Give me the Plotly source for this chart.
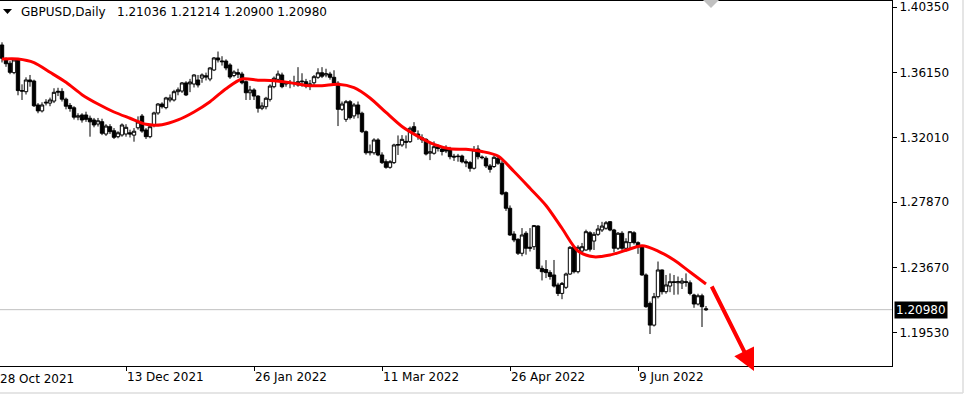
import pandas as pd
import plotly.graph_objects as go

# ---------------- data ----------------
symbol = "GBPUSD"
period = "Daily"
dates = [d.strftime("%Y-%m-%d") for d in pd.bdate_range("2021-10-29", "2022-07-04")]

opens = [1.3792, 1.3700, 1.3675, 1.3615, 1.3696, 1.3500, 1.3493, 1.3568, 1.3561, 1.3408,
         1.3370, 1.3420, 1.3420, 1.3433, 1.3489, 1.3495, 1.3445, 1.3405, 1.3390, 1.3330,
         1.3344, 1.3344, 1.3323, 1.3312, 1.3286, 1.3301, 1.3222, 1.3269, 1.3243, 1.3205,
         1.3216, 1.3222, 1.3230, 1.3215, 1.3262, 1.3337, 1.3248, 1.3205, 1.3280, 1.3357,
         1.3414, 1.3391, 1.3440, 1.3440, 1.3493, 1.3497, 1.3549, 1.3543, 1.3542, 1.3568,
         1.3580, 1.3595, 1.3574, 1.3632, 1.3709, 1.3690, 1.3689, 1.3664, 1.3596, 1.3615,
         1.3606, 1.3557, 1.3486, 1.3504, 1.3465, 1.3387, 1.3397, 1.3444, 1.3525, 1.3572,
         1.3600, 1.3542, 1.3550, 1.3545, 1.3536, 1.3557, 1.3557, 1.3535, 1.3550, 1.3585,
         1.3614, 1.3600, 1.3606, 1.3585, 1.3547, 1.3380, 1.3316, 1.3429, 1.3338, 1.3408,
         1.3355, 1.3237, 1.3102, 1.3102, 1.3184, 1.3088, 1.3045, 1.3009, 1.3039, 1.3150,
         1.3152, 1.3175, 1.3173, 1.3269, 1.3222, 1.3198, 1.3188, 1.3100, 1.3099, 1.3140,
         1.3126, 1.3130, 1.3126, 1.3080, 1.3077, 1.3081, 1.3045, 1.3039, 1.3003, 1.3126,
         1.3075, 1.3067, 1.3018, 1.3014, 1.3067, 1.3035, 1.2847, 1.2747, 1.2582, 1.2548,
         1.2459, 1.2587, 1.2490, 1.2501, 1.2633, 1.2362, 1.2355, 1.2335, 1.2320, 1.2256,
         1.2202, 1.2241, 1.2326, 1.2497, 1.2341, 1.2473, 1.2480, 1.2590, 1.2537, 1.2580,
         1.2608, 1.2619, 1.2661, 1.2608, 1.2491, 1.2587, 1.2491, 1.2527, 1.2590, 1.2527,
         1.2499, 1.2320, 1.2138, 1.1999, 1.2181, 1.2352, 1.2213, 1.2249, 1.2277, 1.2270,
         1.2268, 1.2277, 1.2270, 1.2192, 1.2134, 1.2187, 1.21036]
highs = [1.3809, 1.3712, 1.3690, 1.3706, 1.3705, 1.3540, 1.3585, 1.3600, 1.3570, 1.3420,
         1.3425, 1.3445, 1.3455, 1.3515, 1.3518, 1.3515, 1.3455, 1.3420, 1.3400, 1.3355,
         1.3355, 1.3365, 1.3340, 1.3325, 1.3325, 1.3320, 1.3285, 1.3285, 1.3260, 1.3240,
         1.3290, 1.3285, 1.3250, 1.3260, 1.3335, 1.3350, 1.3260, 1.3280, 1.3365, 1.3420,
         1.3425, 1.3460, 1.3475, 1.3505, 1.3520, 1.3555, 1.3560, 1.3575, 1.3605, 1.3600,
         1.3610, 1.3615, 1.3650, 1.3715, 1.3750, 1.3720, 1.3700, 1.3675, 1.3630, 1.3640,
         1.3620, 1.3565, 1.3530, 1.3515, 1.3470, 1.3425, 1.3460, 1.3540, 1.3590, 1.3628,
         1.3615, 1.3560, 1.3568, 1.3595, 1.3650, 1.3611, 1.3575, 1.3568, 1.3600, 1.3643,
         1.3650, 1.3640, 1.3620, 1.3630, 1.3560, 1.3430, 1.3440, 1.3440, 1.3420, 1.3430,
         1.3365, 1.3245, 1.3155, 1.3195, 1.3195, 1.3105, 1.3060, 1.3055, 1.3160, 1.3213,
         1.3215, 1.3213, 1.3270, 1.3298, 1.3245, 1.3220, 1.3195, 1.3165, 1.3175, 1.3155,
         1.3140, 1.3150, 1.3140, 1.3095, 1.3095, 1.3090, 1.3060, 1.3050, 1.3145, 1.3150,
         1.3085, 1.3080, 1.3030, 1.3085, 1.3075, 1.3050, 1.2855, 1.2765, 1.2600, 1.2555,
         1.2620, 1.2600, 1.2620, 1.2640, 1.2638, 1.2380, 1.2415, 1.2350, 1.2416, 1.2270,
         1.2275, 1.2335, 1.2505, 1.2505, 1.2510, 1.2525, 1.2610, 1.2600, 1.2595, 1.2640,
         1.2660, 1.2665, 1.2665, 1.2615, 1.2595, 1.2600, 1.2555, 1.2600, 1.2600, 1.2535,
         1.2510, 1.2330, 1.2150, 1.2205, 1.2406, 1.2355, 1.2320, 1.2330, 1.2320, 1.2310,
         1.2300, 1.2330, 1.2285, 1.2200, 1.2200, 1.2200, 1.21214]
lows = [1.3680, 1.3652, 1.3605, 1.3605, 1.3470, 1.3440, 1.3475, 1.3525, 1.3395, 1.3355,
        1.3360, 1.3405, 1.3400, 1.3420, 1.3465, 1.3430, 1.3380, 1.3365, 1.3315, 1.3310,
        1.3295, 1.3300, 1.3205, 1.3265, 1.3270, 1.3215, 1.3210, 1.3222, 1.3190, 1.3195,
        1.3205, 1.3205, 1.3200, 1.3173, 1.3250, 1.3230, 1.3190, 1.3195, 1.3265, 1.3345,
        1.3385, 1.3380, 1.3425, 1.3430, 1.3470, 1.3485, 1.3465, 1.3490, 1.3520, 1.3520,
        1.3550, 1.3565, 1.3560, 1.3625, 1.3680, 1.3660, 1.3630, 1.3575, 1.3585, 1.3580,
        1.3540, 1.3440, 1.3440, 1.3440, 1.3359, 1.3375, 1.3380, 1.3430, 1.3515, 1.3560,
        1.3515, 1.3525, 1.3515, 1.3525, 1.3525, 1.3525, 1.3515, 1.3503, 1.3530, 1.3575,
        1.3580, 1.3585, 1.3570, 1.3540, 1.3273, 1.3370, 1.3300, 1.3315, 1.3320, 1.3323,
        1.3228, 1.3090, 1.3085, 1.3090, 1.3080, 1.3030, 1.3000, 1.3000, 1.3030, 1.3088,
        1.3140, 1.3130, 1.3165, 1.3220, 1.3185, 1.3165, 1.3085, 1.3055, 1.3090, 1.3110,
        1.3085, 1.3100, 1.3060, 1.3050, 1.3045, 1.3035, 1.3010, 1.2981, 1.2995, 1.3060,
        1.3060, 1.3005, 1.2975, 1.3005, 1.3025, 1.2830, 1.2730, 1.2570, 1.2530, 1.2448,
        1.2440, 1.2450, 1.2470, 1.2480, 1.2355, 1.2285, 1.2300, 1.2290, 1.2240, 1.2185,
        1.2165, 1.2230, 1.2320, 1.2330, 1.2330, 1.2465, 1.2475, 1.2470, 1.2480, 1.2570,
        1.2595, 1.2610, 1.2600, 1.2465, 1.2480, 1.2480, 1.2470, 1.2490, 1.2515, 1.2455,
        1.2315, 1.2110, 1.1942, 1.1990, 1.2170, 1.2195, 1.2200, 1.2210, 1.2193, 1.2195,
        1.2230, 1.2245, 1.2190, 1.2110, 1.2125, 1.1987, 1.20900]
closes = [1.3707, 1.3672, 1.3617, 1.3696, 1.3500, 1.3497, 1.3568, 1.3557, 1.3403, 1.3370,
          1.3408, 1.3425, 1.3440, 1.3489, 1.3495, 1.3445, 1.3400, 1.3385, 1.3330, 1.3338,
          1.3312, 1.3316, 1.3300, 1.3280, 1.3307, 1.3227, 1.3273, 1.3237, 1.3201, 1.3230,
          1.3280, 1.3265, 1.3222, 1.3240, 1.3299, 1.3241, 1.3205, 1.3269, 1.3357, 1.3414,
          1.3397, 1.3453, 1.3453, 1.3493, 1.3505, 1.3549, 1.3472, 1.3555, 1.3600, 1.3536,
          1.3600, 1.3587, 1.3645, 1.3709, 1.3696, 1.3685, 1.3645, 1.3587, 1.3619, 1.3605,
          1.3550, 1.3486, 1.3504, 1.3465, 1.3387, 1.3402, 1.3451, 1.3529, 1.3579, 1.3606,
          1.3525, 1.3550, 1.3545, 1.3552, 1.3557, 1.3560, 1.3530, 1.3542, 1.3589, 1.3614,
          1.3592, 1.3608, 1.3585, 1.3547, 1.3380, 1.3414, 1.3429, 1.3327, 1.3408, 1.3350,
          1.3237, 1.3102, 1.3108, 1.3184, 1.3088, 1.3039, 1.3009, 1.3045, 1.3152, 1.3155,
          1.3188, 1.3170, 1.3259, 1.3237, 1.3210, 1.3185, 1.3094, 1.3108, 1.3141, 1.3130,
          1.3110, 1.3113, 1.3077, 1.3075, 1.3080, 1.3045, 1.3037, 1.3003, 1.3120, 1.3077,
          1.3071, 1.3018, 1.2996, 1.3073, 1.3035, 1.2838, 1.2747, 1.2576, 1.2544, 1.2459,
          1.2576, 1.2491, 1.2497, 1.2636, 1.2362, 1.2341, 1.2335, 1.2310, 1.2249, 1.2202,
          1.2266, 1.2326, 1.2497, 1.2341, 1.2497, 1.2501, 1.2597, 1.2485, 1.2580, 1.2614,
          1.2633, 1.2654, 1.2608, 1.2491, 1.2587, 1.2491, 1.2533, 1.2597, 1.2527, 1.2499,
          1.2320, 1.2117, 1.1999, 1.2181, 1.2352, 1.2213, 1.2256, 1.2277, 1.2272, 1.2277,
          1.2281, 1.2273, 1.2202, 1.2134, 1.2187, 1.2117, 1.20980]

# moving average, read every 4th bar
ma_dates = dates[::4]
ma_values = [1.3702, 1.3702, 1.3679, 1.3617, 1.3553, 1.3474, 1.3414, 1.3363, 1.3323, 1.3284,
             1.3282, 1.3312, 1.3363, 1.3429, 1.3512, 1.3574, 1.3567, 1.3563, 1.3551, 1.3533,
             1.3531, 1.3540, 1.3519, 1.3453, 1.3360, 1.3270, 1.3207, 1.3156, 1.3128, 1.3124,
             1.3110, 1.3081, 1.2982, 1.2875, 1.2765, 1.2619, 1.2473, 1.2436, 1.2448, 1.2478,
             1.2507, 1.2473, 1.2416, 1.2339, 1.2262]

x_tick_dates = ["2021-12-13", "2022-01-26", "2022-03-11", "2022-04-26", "2022-06-09"]
x_tick_labels = ["13 Dec 2021", "26 Jan 2022", "11 Mar 2022", "26 Apr 2022", "9 Jun 2022"]
first_label = "28 Oct 2021"
y_ticks = [1.19530, 1.23670, 1.27870, 1.32010, 1.36150, 1.40350]

# ---------------- figure ----------------
W, H = 966, 395
ML, MR, MT, MB = 0, 74, 1, 29
PW = W - ML - MR
PH = H - MT - MB
FONT = "DejaVu Sans"

def px_x(px):
    return px / PW

def px_y(py):
    return (MT + PH - py) / PH

fig = go.Figure()
fig.add_trace(go.Candlestick(
    x=dates, open=opens, high=highs, low=lows, close=closes,
    increasing=dict(line=dict(color="black", width=1), fillcolor="white"),
    decreasing=dict(line=dict(color="black", width=1), fillcolor="black"),
    whiskerwidth=0, showlegend=False, hoverinfo="skip",
))
fig.add_trace(go.Scatter(
    x=ma_dates, y=ma_values, mode="lines",
    line=dict(color="#ff0000", width=3, shape="spline", smoothing=0.8),
    showlegend=False, hoverinfo="skip",
))

last_close = closes[-1]
header = (f"{symbol},{period}\u00a0\u00a0 {opens[-1]:.5f} {highs[-1]:.5f} "
          f"{lows[-1]:.5f} {closes[-1]:.5f}")

shapes = [
    dict(type="line", xref="paper", yref="y", x0=0, x1=1, y0=last_close, y1=last_close,
         line=dict(color="#c0c0c0", width=1), layer="below"),
    dict(type="path", xref="paper", yref="paper",
         path=f"M {px_x(3)} {px_y(9)} L {px_x(12)} {px_y(9)} L {px_x(7.5)} {px_y(14)} Z",
         fillcolor="black", line=dict(width=0)),
    dict(type="path", xref="paper", yref="paper",
         path=f"M {px_x(703)} {px_y(0)} L {px_x(719)} {px_y(0)} L {px_x(711)} {px_y(8)} Z",
         fillcolor="#c0c0c0", line=dict(width=0)),
    dict(type="line", xref="paper", yref="paper", x0=px_x(-2), x1=px_x(963),
         y0=px_y(393), y1=px_y(393), line=dict(color="#dcdcdc", width=1.5)),
    dict(type="line", xref="paper", yref="paper", x0=px_x(963), x1=px_x(963),
         y0=px_y(393), y1=px_y(-2), line=dict(color="#dcdcdc", width=1.5)),
]

annotations = [
    dict(xref="paper", yref="paper", x=px_x(19), y=px_y(12), xanchor="left", yanchor="middle",
         text=header, showarrow=False, font=dict(family=FONT, size=12, color="black")),
    dict(xref="paper", yref="paper", x=px_x(-2), y=px_y(379), xanchor="left", yanchor="middle",
         text=first_label, showarrow=False, font=dict(family=FONT, size=12, color="black")),
    dict(xref="paper", yref="y", x=1, y=last_close, xanchor="left", yanchor="middle", xshift=2,
         text=f"{last_close:.5f}", showarrow=False, bgcolor="black", borderpad=1,
         font=dict(family=FONT, size=12, color="white")),
    dict(xref="paper", yref="paper", x=px_x(754), y=px_y(371), ax=711 - 754, ay=285 - 371,
         axref="pixel", ayref="pixel", text="", showarrow=True, arrowhead=2, arrowsize=1.1,
         arrowwidth=4, arrowcolor="#ff0000"),
]

fig.update_layout(
    width=W, height=H,
    margin=dict(l=ML, r=MR, t=MT, b=MB, pad=0, autoexpand=False),
    paper_bgcolor="white", plot_bgcolor="white",
    font=dict(family=FONT, size=12, color="black"),
    showlegend=False,
    boxgap=0.15, boxgroupgap=0,
    shapes=shapes, annotations=annotations,
    xaxis=dict(
        type="category", range=[-0.5, PW / 4 - 0.5], automargin=False,
        rangeslider=dict(visible=False),
        tickmode="array", tickvals=x_tick_dates, ticktext=x_tick_labels,
        ticks="outside", ticklen=4, tickcolor="black", tickwidth=1,
        ticklabelposition="outside right",
        showline=True, linecolor="black", linewidth=1, mirror=True,
        showgrid=False, zeroline=False,
        tickfont=dict(family=FONT, size=12, color="black"),
    ),
    yaxis=dict(
        side="right", automargin=False,
        range=[1.17374, 1.40734],
        tickmode="array", tickvals=y_ticks, ticktext=[f"{v:.5f}" for v in y_ticks],
        ticks="outside", ticklen=4, tickcolor="black", tickwidth=1,
        showline=True, linecolor="black", linewidth=1,
        showgrid=False, zeroline=False,
        tickfont=dict(family=FONT, size=12, color="black"),
    ),
)

fig.write_html("out.html", config={"displayModeBar": False},
               post_script="document.body.style.margin='0';document.body.style.overflow='hidden';")
